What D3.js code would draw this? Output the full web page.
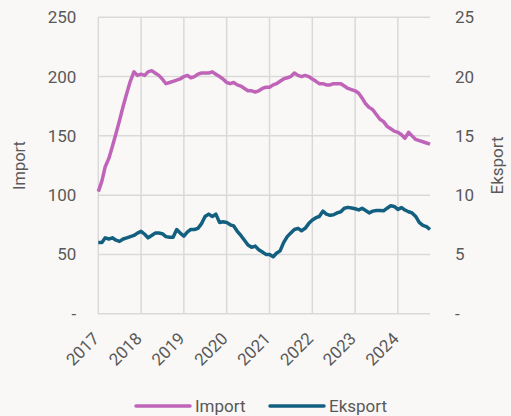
<!DOCTYPE html>
<html>
<head>
<meta charset="utf-8">
<script src="https://cdn.jsdelivr.net/npm/d3@7"></script>
<style>
  body { margin: 0; background: #f9f8f6; }
  svg text { font-family: Roboto, "Noto Sans", sans-serif; fill: #595959; }
</style>
</head>
<body>
<svg id="chart" width="511" height="416"></svg>
<script>
// Månedlige tal, jan 2017 - okt 2024
const startMonth = new Date(2017, 0, 1);
const importValues = [
  103, 112, 124, 131, 141, 152, 163, 175, 186, 196, 204, 201,
  202, 201, 204, 205, 203, 201, 198, 194, 195, 196, 197, 198,
  200, 201, 199, 200, 202, 203, 203, 203, 204, 202, 200, 198,
  195, 194, 195, 193, 192, 190, 188, 188, 187, 188, 190, 191,
  191, 193, 194, 196, 198, 199, 200, 203, 201, 200, 201, 200,
  198, 196, 194, 194, 193, 193, 194, 194, 194, 192, 190, 189,
  188, 186, 182, 177, 174, 172, 168, 164, 162, 158, 156, 154,
  153, 151, 148, 153, 150, 147, 146, 145, 144, 143
];
const eksportValues = [
  6.0, 6.0, 6.4, 6.3, 6.4, 6.2, 6.1, 6.3, 6.4, 6.5, 6.6, 6.8,
  6.95, 6.7, 6.4, 6.6, 6.8, 6.8, 6.75, 6.5, 6.45, 6.45, 7.1, 6.8,
  6.55, 6.9, 7.1, 7.1, 7.2, 7.6, 8.2, 8.4, 8.2, 8.4, 7.7, 7.75,
  7.7, 7.5, 7.4, 6.95, 6.6, 6.2, 5.8, 5.6, 5.7, 5.4, 5.2, 5.0,
  5.0, 4.8, 5.1, 5.3, 6.0, 6.5, 6.8, 7.1, 7.2, 7.0, 7.2, 7.6,
  7.9, 8.1, 8.2, 8.65, 8.4, 8.3, 8.35, 8.5, 8.6, 8.9, 8.97, 8.92,
  8.85, 8.75, 8.9, 8.7, 8.5, 8.65, 8.7, 8.7, 8.68, 8.9, 9.1, 9.05,
  8.8, 8.95, 8.75, 8.6, 8.5, 8.2, 7.7, 7.45, 7.35, 7.1
];
const yearTicks = [2017, 2018, 2019, 2020, 2021, 2022, 2023, 2024];
const leftTicks = [0, 50, 100, 150, 200, 250];
const rightTicks = [0, 5, 10, 15, 20, 25];

const months = importValues.map((v, i) => d3.timeMonth.offset(startMonth, i));

const svg = d3.select("#chart");
const margin = { left: 98.3, right: 81, top: 17.3, bottom: 102.3 };
const width = 511 - margin.left - margin.right;
const height = 416 - margin.top - margin.bottom;

const x = d3.scaleTime()
    .domain([startMonth, months[months.length - 1]])
    .range([0, width]);
const yLeft = d3.scaleLinear().domain([0, 250]).range([height, 0]);
const yRight = d3.scaleLinear().domain([0, 25]).range([height, 0]);

const g = svg.append("g").attr("transform", `translate(${margin.left},${margin.top})`);

// Gitter
g.selectAll(".hgrid")
    .data(leftTicks)
    .enter()
    .append("line")
    .attr("x1", 0)
    .attr("x2", width)
    .attr("y1", d => yLeft(d))
    .attr("y2", d => yLeft(d))
    .attr("stroke", "#d9d9d9")
    .attr("stroke-width", 1.5);

g.selectAll(".vgrid")
    .data(yearTicks)
    .enter()
    .append("line")
    .attr("x1", d => x(new Date(d, 0, 1)))
    .attr("x2", d => x(new Date(d, 0, 1)))
    .attr("y1", 0)
    .attr("y2", height)
    .attr("stroke", "#d9d9d9")
    .attr("stroke-width", 1.5);

// Akseetiketter
g.selectAll(".ltick")
    .data(leftTicks)
    .enter()
    .append("text")
    .attr("x", -22)
    .attr("y", d => yLeft(d))
    .attr("dy", "0.35em")
    .attr("text-anchor", "end")
    .style("font-size", "17px")
    .text(d => d === 0 ? "-" : d);

g.selectAll(".rtick")
    .data(rightTicks)
    .enter()
    .append("text")
    .attr("x", width + 25)
    .attr("y", d => yRight(d))
    .attr("dy", "0.35em")
    .attr("text-anchor", "start")
    .style("font-size", "17px")
    .text(d => d === 0 ? "-" : d);

g.selectAll(".xtick")
    .data(yearTicks)
    .enter()
    .append("text")
    .attr("text-anchor", "end")
    .style("font-size", "17px")
    .attr("transform", d => `translate(${x(new Date(d, 0, 1)) + 2},${height + 26}) rotate(-45)`)
    .text(d => d);

svg.append("text")
    .attr("transform", `translate(25,${margin.top + height / 2}) rotate(-90)`)
    .attr("text-anchor", "middle")
    .style("font-size", "16.5px")
    .text("Import");

svg.append("text")
    .attr("transform", `translate(503,${margin.top + height / 2}) rotate(-90)`)
    .attr("text-anchor", "middle")
    .style("font-size", "17px")
    .text("Eksport");

// Linjer
const importLine = d3.line()
    .x((d, i) => x(months[i]))
    .y(d => yLeft(d));
const eksportLine = d3.line()
    .x((d, i) => x(months[i]))
    .y(d => yRight(d));

g.append("path")
    .datum(importValues)
    .attr("fill", "none")
    .attr("stroke", "#bf64b8")
    .attr("stroke-width", 3.5)
    .attr("stroke-linejoin", "round")
    .attr("d", importLine);

g.append("path")
    .datum(eksportValues)
    .attr("fill", "none")
    .attr("stroke", "#135f80")
    .attr("stroke-width", 3.5)
    .attr("stroke-linejoin", "round")
    .attr("d", eksportLine);

// Forklaring
const legend = [
  { name: "Import", color: "#bf64b8", x: 136 },
  { name: "Eksport", color: "#135f80", x: 270 }
];
legend.forEach(l => {
    svg.append("line")
        .attr("x1", l.x)
        .attr("x2", l.x + 54)
        .attr("y1", 406)
        .attr("y2", 406)
        .attr("stroke", l.color)
        .attr("stroke-width", 3.5)
        .attr("stroke-linecap", "round");
    svg.append("text")
        .attr("x", l.x + 59)
        .attr("y", 412)
        .style("font-size", "17px")
        .text(l.name);
});
</script>
</body>
</html>
